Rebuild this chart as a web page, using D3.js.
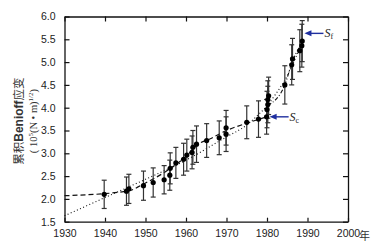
<!DOCTYPE html>
<html>
<head>
<meta charset="utf-8">
<script src="https://cdn.jsdelivr.net/npm/d3@7"></script>
<style>
    body { margin: 0; background: #fff; }
    svg { display: block; }
    .tick text { font-family: "Liberation Sans", Arial, sans-serif; font-size: 10.5px; fill: #222; }
</style>
</head>
<body>
<div id="chart"></div>
<script>
// Messpunkte: Jahr, kumulierte Benioff-Dehnung, Fehlerbalken (±)
const years = [1939.8, 1945.3, 1945.9, 1949.5, 1951.9, 1954.6, 1956.0, 1956.1, 1957.5, 1959.4,
    1960.2, 1961.5, 1961.7, 1962.6, 1965.1, 1968.2, 1969.9, 1969.9, 1975.0, 1977.9,
    1979.9, 1980.0, 1980.2, 1980.2, 1980.4, 1984.4, 1986.1, 1986.3, 1988.1, 1988.6, 1988.7];
const strain = [2.10, 2.17, 2.22, 2.29, 2.36, 2.42, 2.52, 2.67, 2.79, 2.87,
    2.96, 3.02, 3.13, 3.20, 3.28, 3.34, 3.42, 3.56, 3.68, 3.75,
    3.80, 3.96, 4.07, 4.18, 4.26, 4.50, 4.94, 5.07, 5.25, 5.36, 5.46];
const errors = [0.31, 0.31, 0.32, 0.32, 0.32, 0.31, 0.33, 0.34, 0.34, 0.35,
    0.35, 0.36, 0.37, 0.40, 0.37, 0.37, 0.38, 0.38, 0.36, 0.40,
    0.38, 0.40, 0.40, 0.41, 0.41, 0.42, 0.44, 0.45, 0.46, 0.47, 0.45];

// Kurven
const dottedFit = [[1930, 1.63], [1940, 2.03], [1950, 2.43], [1960, 2.85], [1970, 3.36],
    [1975, 3.62], [1978, 3.86], [1980, 4.04], [1982, 4.28], [1985, 4.70], [1987, 5.08], [1988.6, 5.42]];
const dashedFit = [[1930, 2.07], [1945.5, 2.17], [1950, 2.35], [1955, 2.60], [1960, 2.93],
    [1963, 3.20], [1966, 3.32], [1970, 3.50], [1975, 3.66], [1980, 3.80]];
const dashDotFit = [[1980.2, 4.05], [1984.4, 4.50], [1986.2, 5.00], [1988.6, 5.40]];

const xTicks = [1930, 1940, 1950, 1960, 1970, 1980, 1990, 2000];
const yTicks = [1.5, 2.0, 2.5, 3.0, 3.5, 4.0, 4.5, 5.0, 5.5, 6.0];

// Pfeile: Ziel (Jahr, Wert) und Beschriftung
const arrows = [
    { label: "S", sub: "f", year: 1989.0, value: 5.63 },
    { label: "S", sub: "c", year: 1980.4, value: 3.80 }
];

const chart = {
    width: 379,
    height: 248,
    svg: null,
    x: null,
    y: null,

    init(container) {
        this.svg = d3.select(container).append("svg")
            .attr("width", this.width)
            .attr("height", this.height);

        this.x = d3.scaleLinear().domain([1930, 2000]).range([64.5, 348]);
        this.y = d3.scaleLinear().domain([1.5, 6.0]).range([221.7, 16.5]);

        const x = this.x, y = this.y;
        const left = x.range()[0], right = x.range()[1];
        const top = y.range()[1], bottom = y.range()[0];

        // Achsen mit Innenticks auf allen vier Seiten
        this.svg.append("g")
            .attr("transform", `translate(0,${bottom})`)
            .call(d3.axisBottom(x).tickValues(xTicks).tickFormat(d3.format("d"))
                .tickSizeInner(-4).tickSizeOuter(0).tickPadding(8));
        this.svg.append("g")
            .attr("transform", `translate(0,${top})`)
            .call(d3.axisTop(x).tickValues(xTicks).tickFormat("")
                .tickSizeInner(-5).tickSizeOuter(0));
        this.svg.append("g")
            .attr("transform", `translate(${left},0)`)
            .call(d3.axisLeft(y).tickValues(yTicks).tickFormat(d3.format(".1f"))
                .tickSizeInner(-5).tickSizeOuter(0).tickPadding(9));
        this.svg.append("g")
            .attr("transform", `translate(${right},0)`)
            .call(d3.axisRight(y).tickValues(yTicks).tickFormat("")
                .tickSizeInner(-5).tickSizeOuter(0));

        this.svg.selectAll(".domain").attr("stroke", "#111").attr("stroke-width", 1.3);
        this.svg.selectAll(".tick line").attr("stroke", "#111").attr("stroke-width", 1.2);

        // Einheit "年" hinter 2000
        this.svg.append("text")
            .attr("x", x(2000) + 11)
            .attr("y", bottom + 18.5)
            .style("font-family", "'Noto Sans CJK SC', sans-serif")
            .style("font-size", "11px")
            .style("fill", "#333")
            .text("年");

        // y-Achsentitel
        const yl = this.svg.append("text")
            .attr("transform", `translate(23,${(top + bottom) / 2 + 2}) rotate(-90)`)
            .attr("text-anchor", "middle")
            .style("font-family", "'Noto Sans CJK SC', 'Liberation Sans', sans-serif")
            .style("font-size", "11.5px")
            .style("fill", "#333");
        yl.append("tspan").text("累积");
        yl.append("tspan").style("font-family", "'Liberation Sans', Arial, sans-serif")
            .style("font-weight", "bold").style("font-size", "12px").text("Benioff");
        yl.append("tspan").text("应变");

        const yl2 = this.svg.append("text")
            .attr("transform", `translate(37,${(top + bottom) / 2 + 2}) rotate(-90)`)
            .attr("text-anchor", "middle")
            .style("font-family", "'Liberation Serif', 'Times New Roman', serif")
            .style("font-size", "10.5px")
            .style("fill", "#333");
        yl2.append("tspan").text("( 10");
        yl2.append("tspan").attr("dy", -4).style("font-size", "7px").text("5");
        yl2.append("tspan").attr("dy", 4).text("(N • m)");
        yl2.append("tspan").attr("dy", -4).style("font-size", "7px").text("1/2");
        yl2.append("tspan").attr("dy", 4).text(")");

        // Kurven
        const line = d3.line()
            .x(d => x(d[0]))
            .y(d => y(d[1]))
            .curve(d3.curveMonotoneX);

        this.svg.append("path")
            .datum(dottedFit)
            .attr("d", line)
            .attr("fill", "none")
            .attr("stroke", "#111")
            .attr("stroke-width", 1.1)
            .attr("stroke-dasharray", "1,2.4");

        this.svg.append("path")
            .datum(dashedFit)
            .attr("d", line)
            .attr("fill", "none")
            .attr("stroke", "#111")
            .attr("stroke-width", 1.2)
            .attr("stroke-dasharray", "5,3");

        this.svg.append("path")
            .datum(dashDotFit)
            .attr("d", line)
            .attr("fill", "none")
            .attr("stroke", "#111")
            .attr("stroke-width", 1.1)
            .attr("stroke-dasharray", "4,2,1,2");

        // Fehlerbalken und Punkte
        const data = years.map((yr, i) => ({ year: yr, value: strain[i], err: errors[i] }));

        const bars = this.svg.append("g")
            .attr("stroke", "#333")
            .attr("stroke-width", 1.2);

        bars.selectAll(".err")
            .data(data)
            .enter()
            .append("line")
            .attr("class", "err")
            .attr("x1", d => x(d.year))
            .attr("x2", d => x(d.year))
            .attr("y1", d => y(d.value + d.err))
            .attr("y2", d => y(d.value - d.err));

        bars.selectAll(".cap-top")
            .data(data)
            .enter()
            .append("line")
            .attr("class", "cap-top")
            .attr("x1", d => x(d.year) - 2.5)
            .attr("x2", d => x(d.year) + 2.5)
            .attr("y1", d => y(d.value + d.err))
            .attr("y2", d => y(d.value + d.err));

        bars.selectAll(".cap-bottom")
            .data(data)
            .enter()
            .append("line")
            .attr("class", "cap-bottom")
            .attr("x1", d => x(d.year) - 2.5)
            .attr("x2", d => x(d.year) + 2.5)
            .attr("y1", d => y(d.value - d.err))
            .attr("y2", d => y(d.value - d.err));

        this.svg.selectAll(".dot")
            .data(data)
            .enter()
            .append("circle")
            .attr("class", "dot")
            .attr("cx", d => x(d.year))
            .attr("cy", d => y(d.value))
            .attr("r", 2.6)
            .attr("fill", "#000");

        // Pfeile Sf / Sc
        arrows.forEach(a => {
            const ax = x(a.year), ay = y(a.value);
            this.svg.append("line")
                .attr("x1", ax + 6)
                .attr("x2", ax + 20)
                .attr("y1", ay)
                .attr("y2", ay)
                .attr("stroke", "#1f2f9f")
                .attr("stroke-width", 1.4);
            this.svg.append("path")
                .attr("d", `M${ax + 1},${ay} L${ax + 8},${ay - 3} L${ax + 8},${ay + 3} Z`)
                .attr("fill", "#1f2f9f");
            const t = this.svg.append("text")
                .attr("x", ax + 21)
                .attr("y", ay + 4)
                .style("font-family", "'Liberation Serif', 'Times New Roman', serif")
                .style("font-style", "italic")
                .style("font-size", "12px")
                .style("fill", "#222");
            t.append("tspan").text(a.label);
            t.append("tspan").attr("dy", 2).style("font-size", "8px")
                .style("font-style", "normal").text(a.sub);
        });
    }
};

chart.init(document.getElementById("chart"));
</script>
</body>
</html>
